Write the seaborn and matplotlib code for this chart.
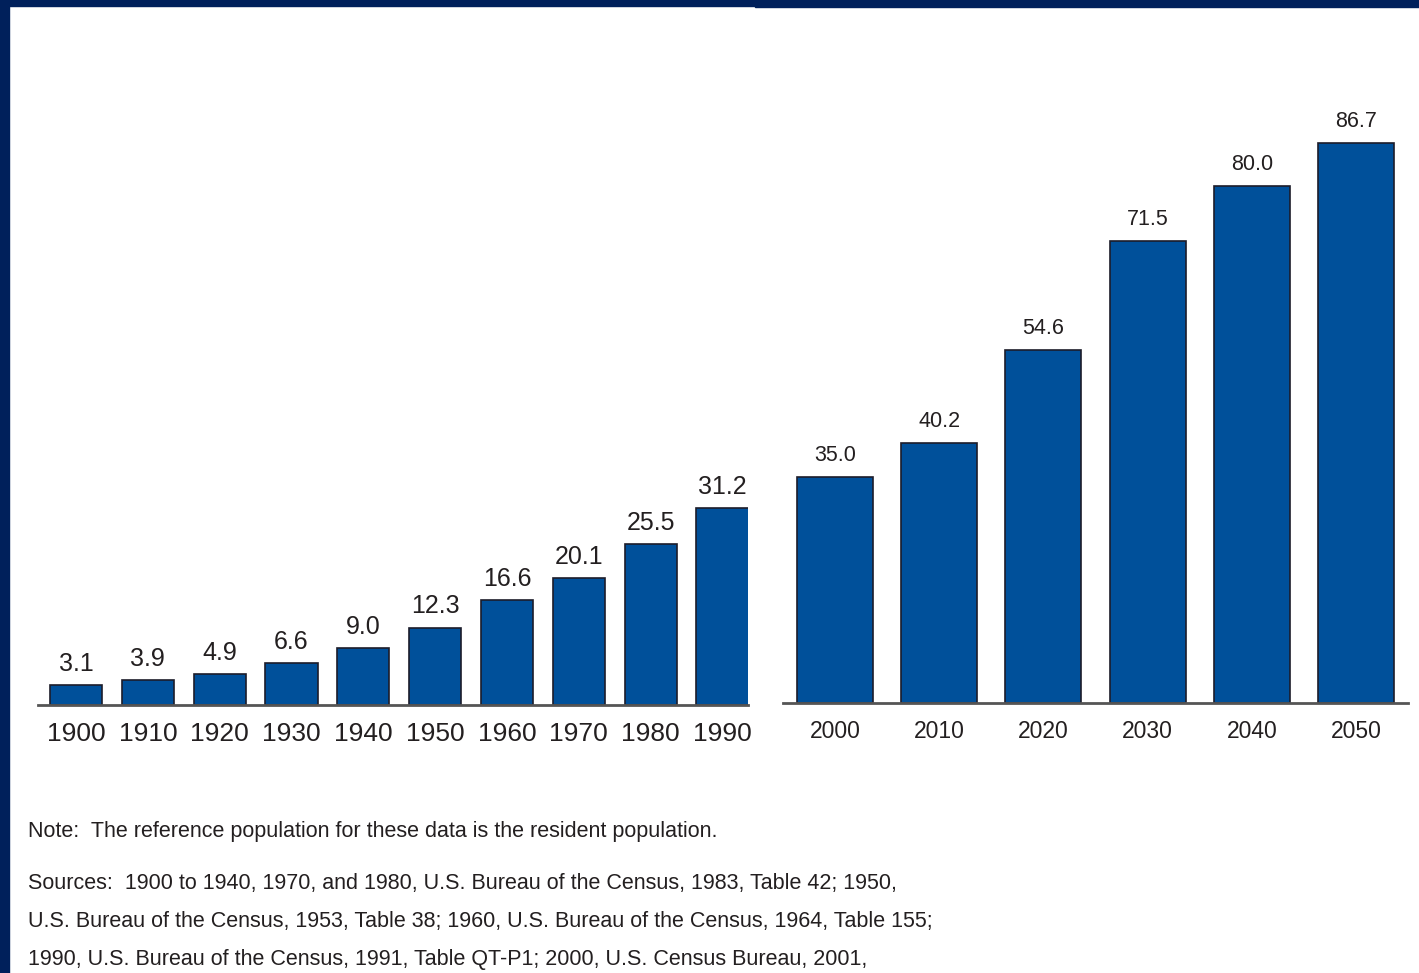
import numpy as np
import pandas as pd
import matplotlib.pyplot as plt
import seaborn as sns
from matplotlib.patches import Rectangle

# population 65+ (millions), census years and projections
years_hist = ["1900", "1910", "1920", "1930", "1940", "1950", "1960", "1970", "1980", "1990"]
pop_hist = [3.1, 3.9, 4.9, 6.6, 9.0, 12.3, 16.6, 20.1, 25.5, 31.2]
years_proj = ["2000", "2010", "2020", "2030", "2040", "2050"]
pop_proj = [35.0, 40.2, 54.6, 71.5, 80.0, 86.7]

note = "Note:  The reference population for these data is the resident population."
sources = [
    "Sources:  1900 to 1940, 1970, and 1980, U.S. Bureau of the Census, 1983, Table 42; 1950,",
    "U.S. Bureau of the Census, 1953, Table 38; 1960, U.S. Bureau of the Census, 1964, Table 155;",
    "1990, U.S. Bureau of the Census, 1991, Table QT-P1; 2000, U.S. Census Bureau, 2001,",
]

sns.set_style("white")
# no narrow face installed, Liberation Sans is the slimmest we have
plt.rcParams['font.family'] = ['Liberation Sans', 'DejaVu Sans']

bar_col = "#00509a"
txt_col = "#231f20"
navy = "#00205b"

W, H = 1419, 973
fig = plt.figure(figsize=(W / 100, H / 100), dpi=100)

def px_axes(x0, x1, ybot, ytop):
    return fig.add_axes([x0 / W, 1 - ybot / H, (x1 - x0) / W, (ybot - ytop) / H])

ax1 = px_axes(38, 748, 705, 100)
ax2 = px_axes(783, 1408, 703, 100)

df1 = pd.DataFrame({"year": years_hist, "pop": pop_hist})
df2 = pd.DataFrame({"year": years_proj, "pop": pop_proj})

sns.barplot(data=df1, x="year", y="pop", ax=ax1, color=bar_col, saturation=1,
            width=0.724, edgecolor="#1c1c2a", linewidth=1.2)
sns.barplot(data=df2, x="year", y="pop", ax=ax2, color=bar_col, saturation=1,
            width=0.729, edgecolor="#1c1c2a", linewidth=1.2)

ax1.set_xlim(-0.529, 9.355)
ax1.set_ylim(0, 605 / 6.30)
ax2.set_xlim(-0.5, 5.5)
ax2.set_ylim(0, 603 / 6.46)

for ax, vals, fs_val, fs_tick, pad, off in [(ax1, pop_hist, 18, 19, 12, 6.5),
                                            (ax2, pop_proj, 15.5, 16.5, 12, 8)]:
    for i, v in enumerate(vals):
        ax.annotate(f"{v:.1f}", (i, v), xytext=(0, off), textcoords="offset points",
                    ha="center", va="bottom", fontsize=fs_val, color=txt_col)
    ax.set_xlabel("")
    ax.set_ylabel("")
    ax.set_yticks([])
    for s in ["top", "right", "left"]:
        ax.spines[s].set_visible(False)
    ax.spines["bottom"].set_color("#555555")
    ax.spines["bottom"].set_linewidth(2)
    ax.tick_params(axis="x", length=0, pad=pad, labelsize=fs_tick, labelcolor=txt_col)
    ax.patch.set_alpha(0)

# notes under the chart
fig.text(28 / W, 1 - 832 / H, note, fontsize=15.5, color=txt_col, va="center", ha="left")
for k, line in enumerate(sources):
    fig.text(28 / W, 1 - (884 + 37.5 * k) / H, line, fontsize=15.5, color=txt_col,
             va="center", ha="left")

# navy frame on the left and top
fig.patches.append(Rectangle((0, 0), 9 / W, 1, transform=fig.transFigure, color=navy, zorder=10))
fig.patches.append(Rectangle((0, 1 - 6 / H), 755 / W, 6 / H, transform=fig.transFigure, color=navy, zorder=10))
fig.patches.append(Rectangle((755 / W, 1 - 7 / H), 1 - 755 / W, 7 / H, transform=fig.transFigure, color=navy, zorder=10))

fig.savefig("out.png", dpi=100, facecolor="white")
